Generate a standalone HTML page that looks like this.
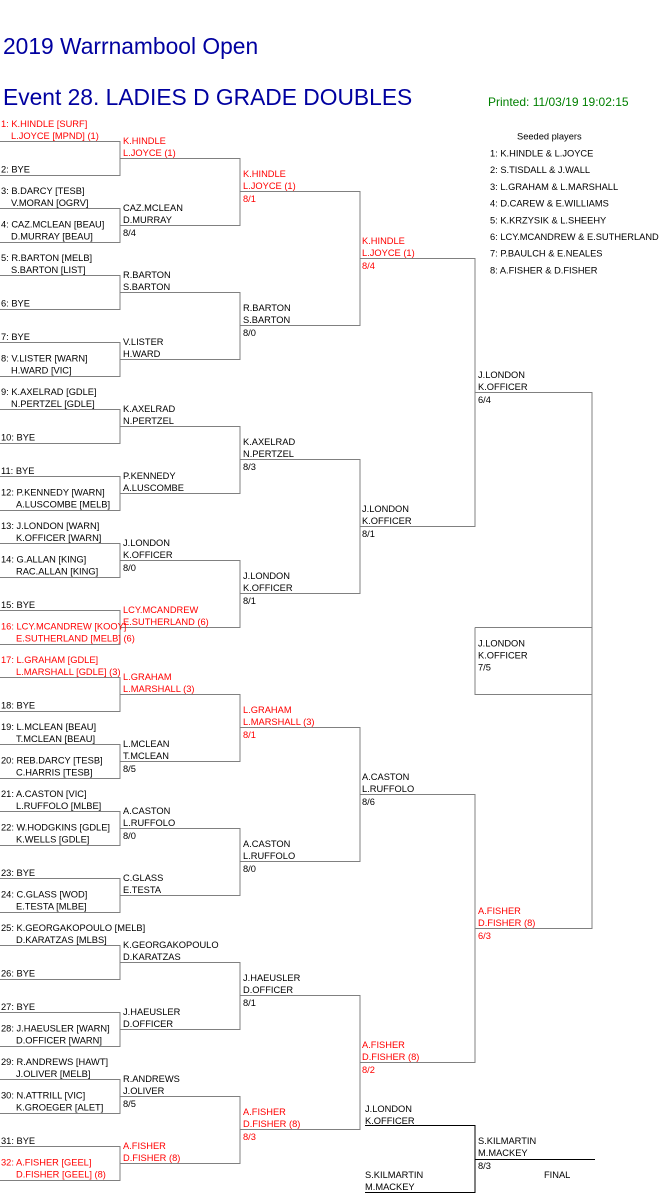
<!DOCTYPE html>
<html><head><meta charset="utf-8"><style>
html,body{margin:0;padding:0;background:#fff;}
body{width:661px;height:1196px;overflow:hidden;position:relative;}
svg{position:absolute;left:0;top:0;}
text{font-family:"Liberation Sans",Arial,sans-serif;font-size:9.3px;fill:#000;}
.r{fill:#f00;}
.h{font-size:22.8px;fill:#0000a0;}
.g{font-size:12px;fill:#008000;}
</style></head><body>
<svg width="661" height="1196" viewBox="0 0 661 1196" xmlns="http://www.w3.org/2000/svg">
<text class="h" x="3" y="54">2019 Warrnambool Open</text>
<text class="h" x="3" y="105">Event 28. LADIES D GRADE DOUBLES</text>
<text class="g" x="488" y="106">Printed: 11/03/19 19:02:15</text>

<text x="517" y="139.5">Seeded players</text>
<text x="490" y="156.5">1: K.HINDLE &amp; L.JOYCE</text>
<text x="490" y="173.2">2: S.TISDALL &amp; J.WALL</text>
<text x="490" y="189.9">3: L.GRAHAM &amp; L.MARSHALL</text>
<text x="490" y="206.6">4: D.CAREW &amp; E.WILLIAMS</text>
<text x="490" y="223.3">5: K.KRZYSIK &amp; L.SHEEHY</text>
<text x="490" y="240">6: LCY.MCANDREW &amp; E.SUTHERLAND</text>
<text x="490" y="256.7">7: P.BAULCH &amp; E.NEALES</text>
<text x="490" y="273.4">8: A.FISHER &amp; D.FISHER</text>

<g fill="none" stroke="#808080" stroke-width="1">
<path d="M0 141.5H120V175.5H0M0 208.5H120V242.5H0M0 275.5H120V309.5H0M0 342.5H120V376.5H0M0 409.5H120V443.5H0M0 476.5H120V510.5H0M0 543.5H120V577.5H0M0 610.5H120V644.5H0M0 677.5H120V711.5H0M0 744.5H120V778.5H0M0 811.5H120V845.5H0M0 878.5H120V912.5H0M0 945.5H120V979.5H0M0 1012.5H120V1046.5H0M0 1079.5H120V1113.5H0M0 1146.5H120V1180.5H0"/>
<path d="M120 158.5H240V225.5H120M120 292.5H240V359.5H120M120 426.5H240V493.5H120M120 560.5H240V627.5H120M120 694.5H240V761.5H120M120 828.5H240V895.5H120M120 962.5H240V1029.5H120M120 1096.5H240V1163.5H120"/>
<path d="M240 191.5H360V325.5H240M240 459.5H360V593.5H240M240 727.5H360V861.5H240M240 995.5H360V1129.5H240"/>
<path d="M360 258.5H475V526.5H360M360 794.5H475V1062.5H360"/>
<path d="M475 392.5H592V928.5H475M475 627.5H592M475 627.5V694.5H592"/>
</g>
<path d="M365 1125.5H475V1192.5H365M475 1159.5H595" fill="none" stroke="#000" stroke-width="1"/>

<!-- Round 1 -->
<text class="r" x="1" y="127">1: K.HINDLE [SURF]</text><text class="r" x="11" y="139">L.JOYCE [MPND] (1)</text>
<text x="1" y="172.5">2: BYE</text>
<text x="1" y="194">3: B.DARCY [TESB]</text><text x="11" y="206">V.MORAN [OGRV]</text>
<text x="1" y="227.5">4: CAZ.MCLEAN [BEAU]</text><text x="11" y="239.5">D.MURRAY [BEAU]</text>
<text x="1" y="261">5: R.BARTON [MELB]</text><text x="11" y="273">S.BARTON [LIST]</text>
<text x="1" y="306.5">6: BYE</text>
<text x="1" y="340">7: BYE</text>
<text x="1" y="361.5">8: V.LISTER [WARN]</text><text x="11" y="373.5">H.WARD [VIC]</text>
<text x="1" y="395">9: K.AXELRAD [GDLE]</text><text x="11" y="407">N.PERTZEL [GDLE]</text>
<text x="1" y="440.5">10: BYE</text>
<text x="1" y="474">11: BYE</text>
<text x="1" y="495.5">12: P.KENNEDY [WARN]</text><text x="16" y="507.5">A.LUSCOMBE [MELB]</text>
<text x="1" y="529">13: J.LONDON [WARN]</text><text x="16" y="541">K.OFFICER [WARN]</text>
<text x="1" y="562.5">14: G.ALLAN [KING]</text><text x="16" y="574.5">RAC.ALLAN [KING]</text>
<text x="1" y="608">15: BYE</text>
<text class="r" x="1" y="629.5">16: LCY.MCANDREW [KOOY]</text><text class="r" x="16" y="641.5">E.SUTHERLAND [MELB] (6)</text>
<text class="r" x="1" y="663">17: L.GRAHAM [GDLE]</text><text class="r" x="16" y="675">L.MARSHALL [GDLE] (3)</text>
<text x="1" y="708.5">18: BYE</text>
<text x="1" y="730">19: L.MCLEAN [BEAU]</text><text x="16" y="742">T.MCLEAN [BEAU]</text>
<text x="1" y="763.5">20: REB.DARCY [TESB]</text><text x="16" y="775.5">C.HARRIS [TESB]</text>
<text x="1" y="797">21: A.CASTON [VIC]</text><text x="16" y="809">L.RUFFOLO [MLBE]</text>
<text x="1" y="830.5">22: W.HODGKINS [GDLE]</text><text x="16" y="842.5">K.WELLS [GDLE]</text>
<text x="1" y="876">23: BYE</text>
<text x="1" y="897.5">24: C.GLASS [WOD]</text><text x="16" y="909.5">E.TESTA [MLBE]</text>
<text x="1" y="931">25: K.GEORGAKOPOULO [MELB]</text><text x="16" y="943">D.KARATZAS [MLBS]</text>
<text x="1" y="976.5">26: BYE</text>
<text x="1" y="1010">27: BYE</text>
<text x="1" y="1031.5">28: J.HAEUSLER [WARN]</text><text x="16" y="1043.5">D.OFFICER [WARN]</text>
<text x="1" y="1065">29: R.ANDREWS [HAWT]</text><text x="16" y="1077">J.OLIVER [MELB]</text>
<text x="1" y="1098.5">30: N.ATTRILL [VIC]</text><text x="16" y="1110.5">K.GROEGER [ALET]</text>
<text x="1" y="1144">31: BYE</text>
<text class="r" x="1" y="1165.5">32: A.FISHER [GEEL]</text><text class="r" x="16" y="1177.5">D.FISHER [GEEL] (8)</text>

<!-- Round 2 -->
<text class="r" x="123" y="144">K.HINDLE</text><text class="r" x="123" y="156">L.JOYCE (1)</text>
<text x="123" y="211">CAZ.MCLEAN</text><text x="123" y="223">D.MURRAY</text><text x="123" y="236">8/4</text>
<text x="123" y="278">R.BARTON</text><text x="123" y="290">S.BARTON</text>
<text x="123" y="345">V.LISTER</text><text x="123" y="357">H.WARD</text>
<text x="123" y="412">K.AXELRAD</text><text x="123" y="424">N.PERTZEL</text>
<text x="123" y="479">P.KENNEDY</text><text x="123" y="491">A.LUSCOMBE</text>
<text x="123" y="546">J.LONDON</text><text x="123" y="558">K.OFFICER</text><text x="123" y="571">8/0</text>
<text class="r" x="123" y="613">LCY.MCANDREW</text><text class="r" x="123" y="625">E.SUTHERLAND (6)</text>
<text class="r" x="123" y="680">L.GRAHAM</text><text class="r" x="123" y="692">L.MARSHALL (3)</text>
<text x="123" y="747">L.MCLEAN</text><text x="123" y="759">T.MCLEAN</text><text x="123" y="772">8/5</text>
<text x="123" y="814">A.CASTON</text><text x="123" y="826">L.RUFFOLO</text><text x="123" y="839">8/0</text>
<text x="123" y="881">C.GLASS</text><text x="123" y="893">E.TESTA</text>
<text x="123" y="948">K.GEORGAKOPOULO</text><text x="123" y="960">D.KARATZAS</text>
<text x="123" y="1015">J.HAEUSLER</text><text x="123" y="1027">D.OFFICER</text>
<text x="123" y="1082">R.ANDREWS</text><text x="123" y="1094">J.OLIVER</text><text x="123" y="1107">8/5</text>
<text class="r" x="123" y="1149">A.FISHER</text><text class="r" x="123" y="1161">D.FISHER (8)</text>

<!-- Round 3 -->
<text class="r" x="243" y="177">K.HINDLE</text><text class="r" x="243" y="189">L.JOYCE (1)</text><text class="r" x="243" y="202">8/1</text>
<text x="243" y="311">R.BARTON</text><text x="243" y="323">S.BARTON</text><text x="243" y="336">8/0</text>
<text x="243" y="445">K.AXELRAD</text><text x="243" y="457">N.PERTZEL</text><text x="243" y="470">8/3</text>
<text x="243" y="579">J.LONDON</text><text x="243" y="591">K.OFFICER</text><text x="243" y="604">8/1</text>
<text class="r" x="243" y="713">L.GRAHAM</text><text class="r" x="243" y="725">L.MARSHALL (3)</text><text class="r" x="243" y="738">8/1</text>
<text x="243" y="847">A.CASTON</text><text x="243" y="859">L.RUFFOLO</text><text x="243" y="872">8/0</text>
<text x="243" y="981">J.HAEUSLER</text><text x="243" y="993">D.OFFICER</text><text x="243" y="1006">8/1</text>
<text class="r" x="243" y="1115">A.FISHER</text><text class="r" x="243" y="1127">D.FISHER (8)</text><text class="r" x="243" y="1140">8/3</text>

<!-- Round 4 -->
<text class="r" x="362" y="244">K.HINDLE</text><text class="r" x="362" y="256">L.JOYCE (1)</text><text class="r" x="362" y="269">8/4</text>
<text x="362" y="512">J.LONDON</text><text x="362" y="524">K.OFFICER</text><text x="362" y="537">8/1</text>
<text x="362" y="780">A.CASTON</text><text x="362" y="792">L.RUFFOLO</text><text x="362" y="805">8/6</text>
<text class="r" x="362" y="1048">A.FISHER</text><text class="r" x="362" y="1060">D.FISHER (8)</text><text class="r" x="362" y="1073">8/2</text>

<!-- Round 5 -->
<text x="478" y="378">J.LONDON</text><text x="478" y="390">K.OFFICER</text><text x="478" y="403">6/4</text>
<text class="r" x="478" y="914">A.FISHER</text><text class="r" x="478" y="926">D.FISHER (8)</text><text class="r" x="478" y="939">6/3</text>

<!-- Winner -->
<text x="478" y="646.5">J.LONDON</text><text x="478" y="658.5">K.OFFICER</text><text x="478" y="670.5">7/5</text>

<!-- Playoff -->
<text x="365" y="1112">J.LONDON</text><text x="365" y="1124">K.OFFICER</text>
<text x="365" y="1178">S.KILMARTIN</text><text x="365" y="1190">M.MACKEY</text>
<text x="478" y="1144">S.KILMARTIN</text><text x="478" y="1156">M.MACKEY</text><text x="478" y="1169">8/3</text>
<text x="544" y="1178">FINAL</text>
</svg>
</body></html>
